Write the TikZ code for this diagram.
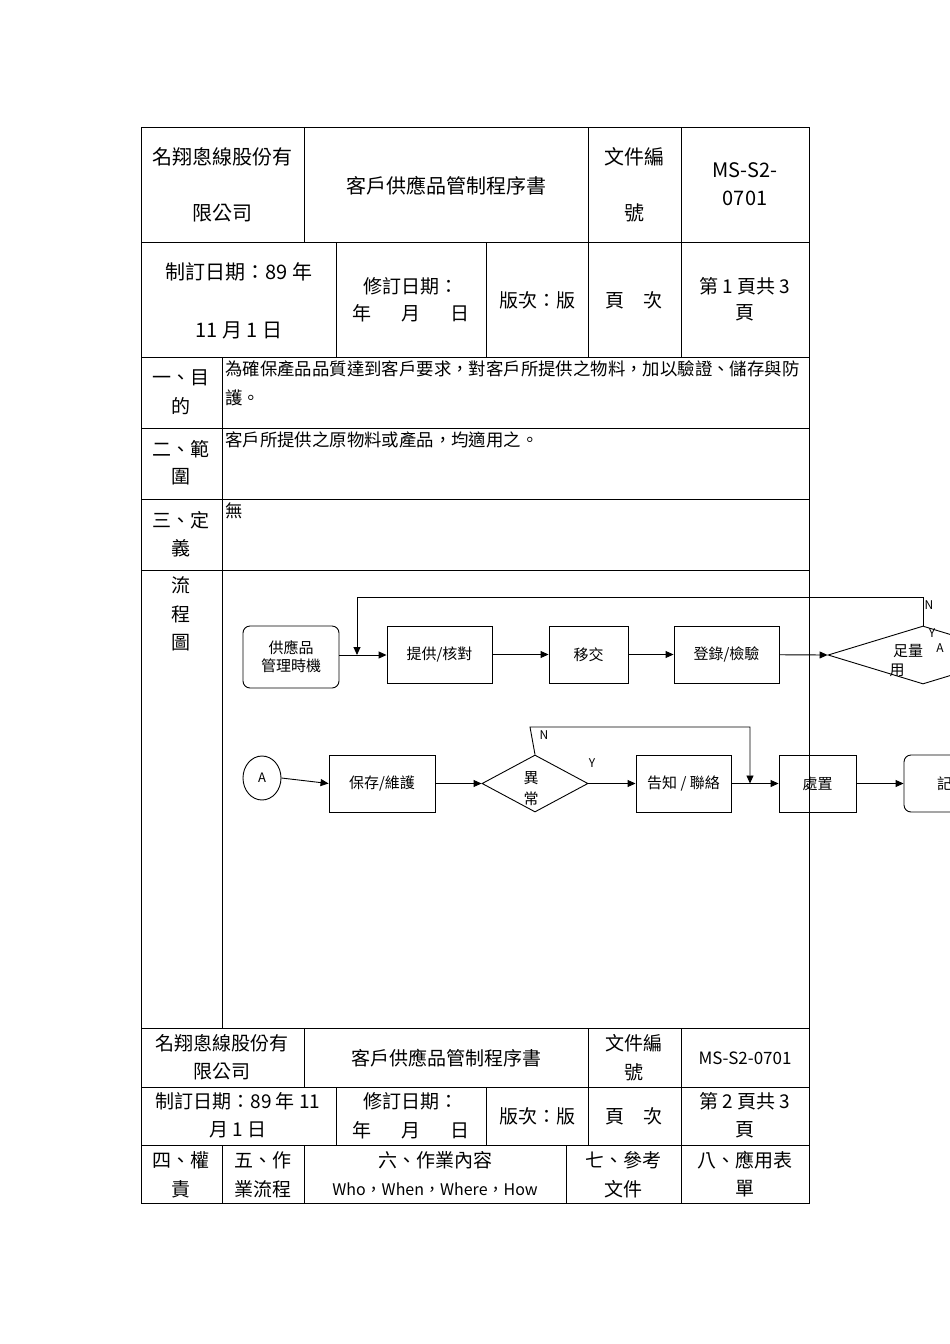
\documentclass[tikz,border=0pt]{standalone}
\usepackage{fontspec}
\setmainfont{Noto Sans CJK TC}
\usetikzlibrary{shapes.geometric,arrows.meta}
\begin{document}
\begin{tikzpicture}[x=1pt,y=-1pt,
  cell/.style={draw=black,line width=0.8pt},
  hd/.style={font=\fontsize{20}{28}\selectfont,align=center,inner sep=0pt},
  bd/.style={font=\fontsize{19}{28}\selectfont,align=center,inner sep=0pt},
  sm/.style={font=\fontsize{17.4}{29}\selectfont,align=left,inner sep=0pt,anchor=north west},
  fbox/.style={draw=black,line width=0.9pt,font=\fontsize{15}{18}\selectfont,align=center,inner sep=0pt},
  lbl/.style={font=\fontsize{12}{14}\selectfont,inner sep=0pt},
  arr/.style={-{Triangle[length=8pt,width=7pt]},line width=0.9pt}]
\useasboundingbox (0,0) rectangle (950,1344);
\clip (0,0) rectangle (950,1344);
\fill[white] (0,0) rectangle (950,1344);
% ---- table lines
\draw[cell] (141,127) rectangle (809,1203);
\foreach \y in {242,357,428,499,570,1028,1087,1145} \draw[cell] (141,\y) -- (809,\y);
\foreach \x in {304,588,681} \draw[cell] (\x,127) -- (\x,242);
\foreach \x in {336,486,588,681} \draw[cell] (\x,242) -- (\x,357);
\draw[cell] (222,357) -- (222,1028);
\foreach \x in {304,588,681} \draw[cell] (\x,1028) -- (\x,1087);
\foreach \x in {336,486,588,681} \draw[cell] (\x,1087) -- (\x,1145);
\foreach \x in {222,304,566,681} \draw[cell] (\x,1145) -- (\x,1203);
% ---- header
\node[hd] (h1) at (222,157) {名翔悤線股份有};
\node[hd] (h1b) at (222,213) {限公司};
\node[hd] (h2) at (446,186) {客戶供應品管制程序書};
\node[hd] (h3) at (634,157) {文件編};
\node[hd] (h3b) at (634,213) {號};
\node[hd] (h4) at (745,170) {MS-S2-};
\node[hd] (h4b) at (745,198) {0701};
\node[hd] (r1) at (239,272) {制訂日期：89 年};
\node[hd] (r1b) at (239,330) {11 月 1 日};
\node[bd] (r2) at (411,286) {修訂日期：};
\node[bd] (r2b) at (411,313) {年\hspace{1.6em}月\hspace{1.6em}日};
\node[bd] (r3) at (537,300) {版次：版};
\node[bd] (r4) at (634,300) {頁\hspace{1em}次};
\node[bd] (r5) at (745,286) {第 1 頁共 3};
\node[bd] (r5b) at (745,313) {頁};
% ---- left labels
\node[bd] (l1) at (181,378) {一、目};
\node[bd] (l1b) at (181,406) {的};
\node[bd] (l2) at (181,449) {二、範};
\node[bd] (l2b) at (181,477) {圍};
\node[bd] (l3) at (181,520) {三、定};
\node[bd] (l3b) at (181,548) {義};
\node[bd] (l4) at (181,585) {流};
\node[bd] (l4b) at (181,614) {程};
\node[bd] (l4c) at (181,643) {圖};
\node[sm] (t1) at (225,361) {為確保產品品質達到客戶要求，對客戶所提供之物料，加以驗證、儲存與防\\護。};
\node[sm] (t2) at (225,432) {客戶所提供之原物料或產品，均適用之。};
\node[sm] (t3) at (225,503) {無};
% ---- flowchart row 1
\node[fbox,rounded corners=7pt,minimum width=96pt,minimum height=62pt] (s) at (291,657) {供應品\\管理時機};
\node[fbox,minimum width=105pt,minimum height=57pt] (b1) at (439.5,654.5) {提供/核對};
\node[fbox,minimum width=79pt,minimum height=57pt] (b2) at (588.5,654.5) {移交};
\node[fbox,minimum width=105pt,minimum height=57pt] (b3) at (726.5,654.5) {登錄/檢驗};
\node[fbox,diamond,aspect=3.2,minimum width=190pt,minimum height=58pt] (d1) at (923,655) {};
\node[lbl,font=\fontsize{15}{18}\selectfont] (d1t) at (908,651) {足量};
\node[lbl,font=\fontsize{15}{18}\selectfont] (d1u) at (897,670) {用};
\node[lbl] (d1a) at (940,648) {A};
\node[lbl] (d1n) at (929,605) {N};
\node[lbl] (d1y) at (932,633) {Y};
\coordinate (j1) at (357,655);
\draw[arr] (s.east |- j1) -- (b1.west |- j1);
\draw[arr] (d1.north) -- (923,597) -- (357,597) -- (j1);
\draw[arr] (b1) -- (b2);
\draw[arr] (b2) -- (b3);
\draw[arr] (b3) -- (d1.west);
% ---- flowchart row 2
\node[fbox,ellipse,minimum width=38pt,minimum height=44pt] (a) at (262,778) {\fontsize{13}{14}\selectfont A};
\node[fbox,minimum width=106pt,minimum height=57pt] (c1) at (382,783.5) {保存/維護};
\node[fbox,diamond,aspect=1.86,minimum width=106pt,minimum height=57pt] (d2) at (535,783.5) {};
\node[lbl,font=\fontsize{15}{18}\selectfont] (d2t) at (531,778) {異};
\node[lbl,font=\fontsize{15}{18}\selectfont] (d2u) at (531,799) {常};
\node[fbox,minimum width=95pt,minimum height=57pt] (c2) at (683.5,783.5) {告知 / 聯絡};
\node[fbox,minimum width=77pt,minimum height=57pt] (c3) at (817.5,783.5) {處置};
\node[fbox,rounded corners=7pt,minimum width=96pt,minimum height=57pt] (c4) at (952,783.5) {記錄};
\node[lbl] (d2n) at (544,735) {N};
\node[lbl] (d2y) at (592,763) {Y};
\draw[arr] (a.east) -- (c1.west);
\draw[arr] (c1) -- (d2.west);
\draw[arr] (d2.east) -- (c2.west);
\draw[arr] (c2) -- (c3);
\draw[arr] (c3) -- (c4);
\coordinate (j2) at (750,783.5);
\draw[arr] (d2.north) -- (530,727) -- (750,727) -- (j2);
% ---- footer
\node[bd] (f1) at (222,1043) {名翔悤線股份有};
\node[bd] (f1b) at (222,1072) {限公司};
\node[bd] (f2) at (446,1058) {客戶供應品管制程序書};
\node[bd] (f3) at (634,1043) {文件編};
\node[bd] (f3b) at (634,1072) {號};
\node[bd,font=\fontsize{17}{20}\selectfont] (f4) at (745,1058) {MS-S2-0701};
\node[bd] (g1) at (238,1101) {制訂日期：89 年 11};
\node[bd] (g1b) at (238,1130) {月 1 日};
\node[bd] (g2) at (411,1101) {修訂日期：};
\node[bd] (g2b) at (411,1130) {年\hspace{1.6em}月\hspace{1.6em}日};
\node[bd] (g3) at (537,1116) {版次：版};
\node[bd] (g4) at (634,1116) {頁\hspace{1em}次};
\node[bd] (g5) at (745,1101) {第 2 頁共 3};
\node[bd] (g5b) at (745,1130) {頁};
\node[bd] (k1) at (181,1160) {四、權};
\node[bd] (k1b) at (181,1189) {責};
\node[bd] (k2) at (263,1160) {五、作};
\node[bd] (k2b) at (263,1189) {業流程};
\node[bd] (k3) at (435,1160) {六、作業內容};
\node[bd,font=\fontsize{16}{20}\selectfont] (k3b) at (435,1189) {Who，When，Where，How};
\node[bd] (k4) at (623,1160) {七、參考};
\node[bd] (k4b) at (623,1189) {文件};
\node[bd] (k5) at (745,1160) {八、應用表};
\node[bd] (k5b) at (745,1189) {單};
\end{tikzpicture}
\end{document}
